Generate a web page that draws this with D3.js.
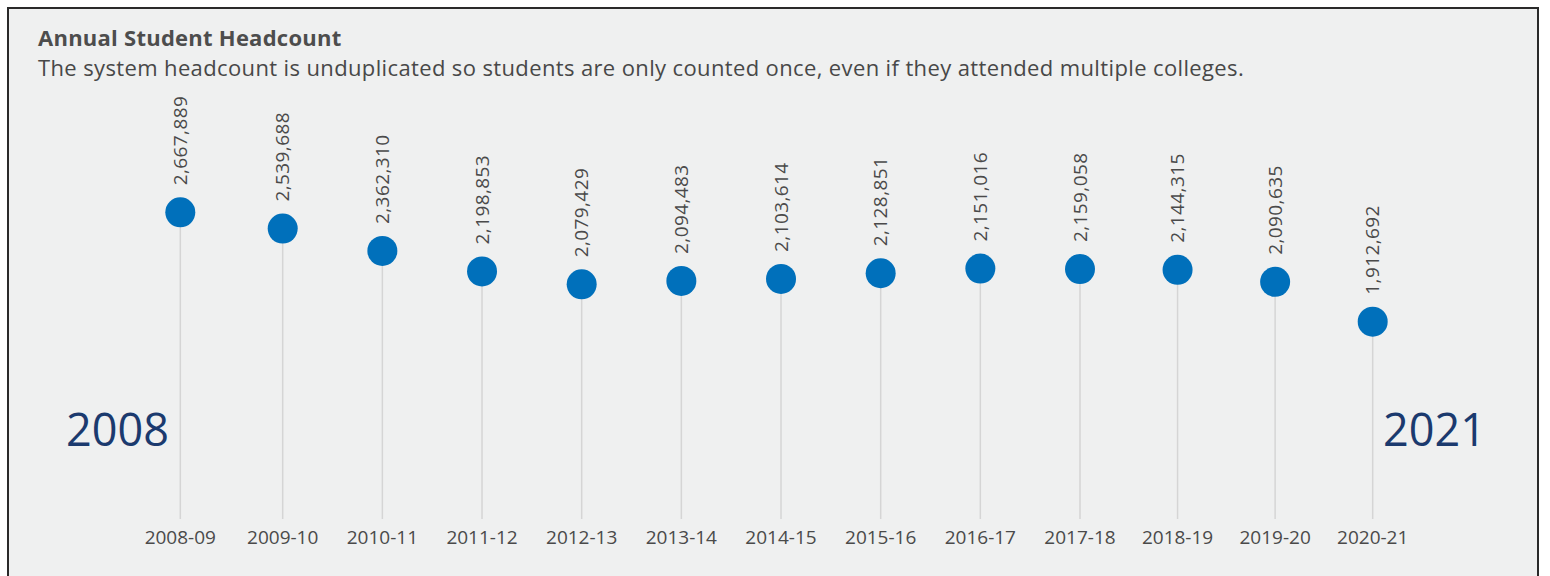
<!DOCTYPE html>
<html>
<head>
<meta charset="utf-8">
<script src="https://cdn.jsdelivr.net/npm/d3@7"></script>
<style>
  body { margin: 0; background: #fff; }
  svg text { font-family: "Open Sans", Lato, sans-serif; }
</style>
</head>
<body>
<div id="chart"></div>
<script>
var width = 1550,
    height = 576;

var years = ["2008-09", "2009-10", "2010-11", "2011-12", "2012-13", "2013-14", "2014-15",
             "2015-16", "2016-17", "2017-18", "2018-19", "2019-20", "2020-21"];
var headcount = [2667889, 2539688, 2362310, 2198853, 2079429, 2094483, 2103614,
                 2128851, 2151016, 2159058, 2144315, 2090635, 1912692];
var startYear = "2008",
    endYear = "2021";

var title = "Annual Student Headcount";
var subtitle = "The system headcount is unduplicated so students are only counted once, even if they attended multiple colleges.";

var svg = d3.select("#chart").append("svg")
    .attr("width", width)
    .attr("height", height);

// panel
svg.append("rect")
    .attr("x", 8).attr("y", 8)
    .attr("width", 1530).attr("height", 600)
    .attr("fill", "#eff0f0")
    .attr("stroke", "#2a2a2a")
    .attr("stroke-width", 2);

// the pins in the picture are not quite evenly spaced, nor placed exactly by value,
// so both scales are polylinear
var xi = d3.scaleLinear()
    .domain([0, 1, 9, 12])
    .range([180.3, 282.7, 1080, 1372.7]);

var y = d3.scaleLinear()
    .domain([1912692, 2150000, 2200000, 2667889])
    .range([321.7, 268.5, 271.5, 212.3]);

var stemBottom = 519;

svg.append("text")
    .attr("x", 38).attr("y", 46)
    .attr("fill", "#4d4d4d")
    .attr("font-weight", "bold")
    .attr("font-size", 22)
    .attr("letter-spacing", 0.25)
    .text(title);

svg.append("text")
    .attr("x", 38).attr("y", 76)
    .attr("fill", "#484848")
    .attr("font-size", 22)
    .attr("letter-spacing", 0.37)
    .text(subtitle);

// big year labels
svg.append("text")
    .attr("x", 66).attr("y", 446)
    .attr("fill", "#1b3a6e")
    .attr("font-size", 45)
    .attr("font-weight", 500)
    .text(startYear);

svg.append("text")
    .attr("x", 1486).attr("y", 446)
    .attr("text-anchor", "end")
    .attr("fill", "#1b3a6e")
    .attr("font-size", 45)
    .attr("font-weight", 500)
    .text(endYear);

var data = years.map(function(d, i) { return { year: d, i: i, value: headcount[i] }; });

var g = svg.selectAll(".pin")
    .data(data)
  .enter().append("g")
    .attr("class", "pin");

g.append("line")
    .attr("x1", function(d) { return xi(d.i); })
    .attr("x2", function(d) { return xi(d.i); })
    .attr("y1", function(d) { return y(d.value); })
    .attr("y2", stemBottom)
    .attr("stroke", "#d5d5d5")
    .attr("stroke-width", 1.5);

g.append("circle")
    .attr("cx", function(d) { return xi(d.i); })
    .attr("cy", function(d) { return y(d.value); })
    .attr("r", 15)
    .attr("fill", "#0070bb");

g.append("text")
    .attr("transform", function(d) {
      return "translate(" + xi(d.i) + "," + (y(d.value) - 27) + ") rotate(-90)";
    })
    .attr("dy", "0.35em")
    .attr("fill", "#4a4a4a")
    .attr("font-size", 19)
    .attr("letter-spacing", 0.4)
    .text(function(d) { return d3.format(",")(d.value); });

g.append("text")
    .attr("x", function(d) { return xi(d.i); })
    .attr("y", 544)
    .attr("text-anchor", "middle")
    .attr("fill", "#4a4a4a")
    .attr("font-size", 19)
    .text(function(d) { return d.year; });
</script>
</body>
</html>
